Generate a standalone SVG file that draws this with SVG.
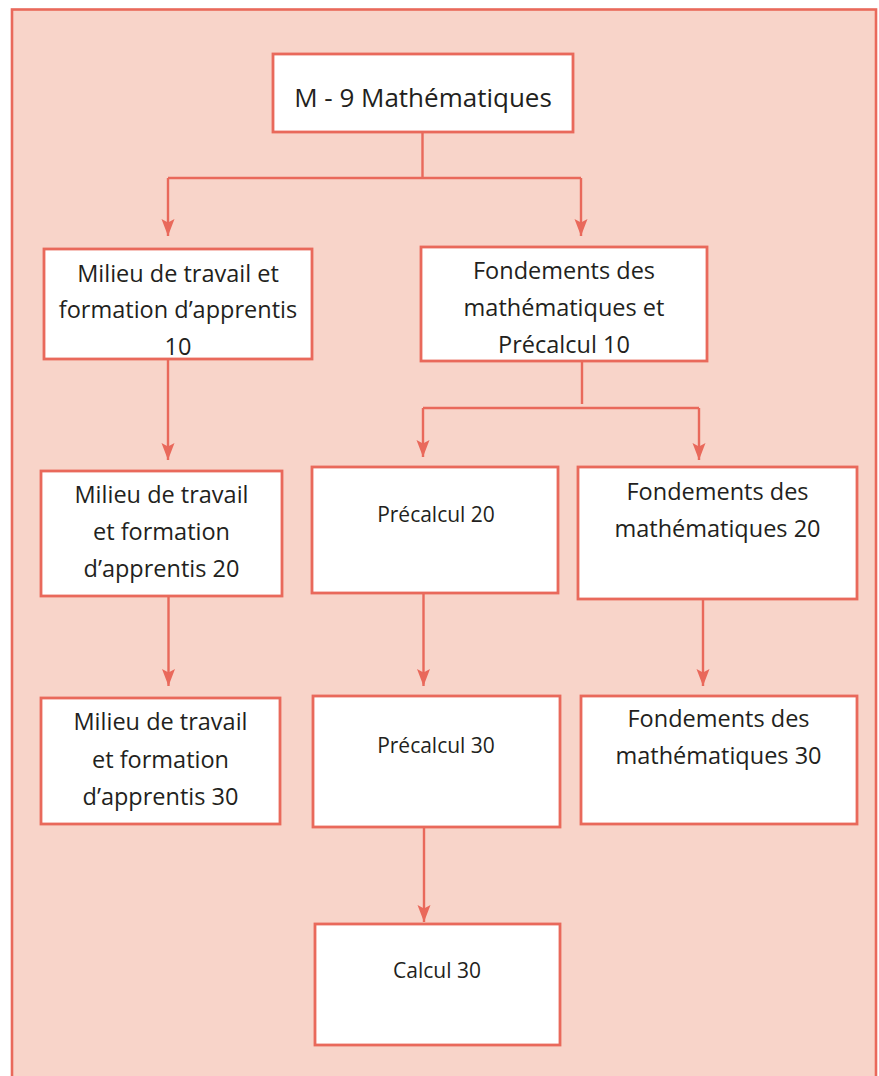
<svg xmlns="http://www.w3.org/2000/svg" width="879" height="1076" viewBox="0 0 879 1076">
  <style>
    .box { fill: #ffffff; stroke: #E9695B; stroke-width: 2.8; }
    .conn { fill: none; stroke: #E9695B; stroke-width: 2.4; }
    .t { font-family: "Open Sans", "Noto Sans", "Liberation Sans", sans-serif; fill: #231F20; text-anchor: middle; font-size: 23.5px; }
    .s { font-size: 21px; }
    .big { font-size: 26px; }
  </style>
  <defs>
    <marker id="arrow" markerUnits="userSpaceOnUse" markerWidth="20" markerHeight="16" refX="17" refY="6.5" orient="auto" viewBox="0 0 20 16" overflow="visible">
      <path d="M17,6.5 L0,0 L3.5,6.5 L0,13 Z" fill="#E9695B"/>
    </marker>
  </defs>
  <rect x="0" y="0" width="879" height="1076" fill="#ffffff"/>
  <rect id="frame" x="12" y="9.5" width="864" height="1080" fill="#F8D4C9" stroke="#E9695B" stroke-width="2.6"/>

  <g id="connectors">
    <path class="conn" d="M422.5,132 V178 M168,178 H581"/>
    <path class="conn" d="M168,178 V236" marker-end="url(#arrow)"/>
    <path class="conn" d="M581,178 V236" marker-end="url(#arrow)"/>
    <path class="conn" d="M168,359 V460" marker-end="url(#arrow)"/>
    <path class="conn" d="M582,361 V404 M423,408 H699"/>
    <path class="conn" d="M423,408 V457" marker-end="url(#arrow)"/>
    <path class="conn" d="M699,408 V460" marker-end="url(#arrow)"/>
    <path class="conn" d="M168.5,596 V686" marker-end="url(#arrow)"/>
    <path class="conn" d="M423.5,594 V686" marker-end="url(#arrow)"/>
    <path class="conn" d="M703,595 V686" marker-end="url(#arrow)"/>
    <path class="conn" d="M424,827 V922" marker-end="url(#arrow)"/>
  </g>

  <g id="node-m9">
    <rect class="box" x="273" y="54" width="300" height="78"/>
    <text class="t big" x="423" y="107">M - 9 Mathématiques</text>
  </g>
  <g id="node-milieu10">
    <rect class="box" x="44" y="249" width="268" height="110"/>
    <text class="t" x="178" y="282">Milieu de travail et</text>
    <text class="t" x="178" y="318">formation d’apprentis</text>
    <text class="t" x="178" y="355">10</text>
  </g>
  <g id="node-fondements10">
    <rect class="box" x="421" y="247" width="286" height="114"/>
    <text class="t" x="564" y="279">Fondements des</text>
    <text class="t" x="564" y="316">mathématiques et</text>
    <text class="t" x="564" y="353">Précalcul 10</text>
  </g>
  <g id="node-milieu20">
    <rect class="box" x="41" y="471" width="241" height="125"/>
    <text class="t" x="161.5" y="503">Milieu de travail</text>
    <text class="t" x="161.5" y="540">et formation</text>
    <text class="t" x="161.5" y="577">d’apprentis 20</text>
  </g>
  <g id="node-precalcul20">
    <rect class="box" x="312" y="467" width="246" height="126"/>
    <text class="t s" x="436" y="522">Précalcul 20</text>
  </g>
  <g id="node-fondements20">
    <rect class="box" x="578" y="467" width="279" height="132"/>
    <text class="t" x="717.5" y="500">Fondements des</text>
    <text class="t" x="717.5" y="537">mathématiques 20</text>
  </g>
  <g id="node-milieu30">
    <rect class="box" x="41" y="698" width="239" height="126"/>
    <text class="t" x="160.5" y="730">Milieu de travail</text>
    <text class="t" x="160.5" y="768">et formation</text>
    <text class="t" x="160.5" y="805">d’apprentis 30</text>
  </g>
  <g id="node-precalcul30">
    <rect class="box" x="313" y="696" width="247" height="131"/>
    <text class="t s" x="436" y="753">Précalcul 30</text>
  </g>
  <g id="node-fondements30">
    <rect class="box" x="581" y="696" width="276" height="128"/>
    <text class="t" x="718.5" y="727">Fondements des</text>
    <text class="t" x="718.5" y="764">mathématiques 30</text>
  </g>
  <g id="node-calcul30">
    <rect class="box" x="315" y="924" width="245" height="121"/>
    <text class="t s" x="437" y="978">Calcul 30</text>
  </g>
</svg>
